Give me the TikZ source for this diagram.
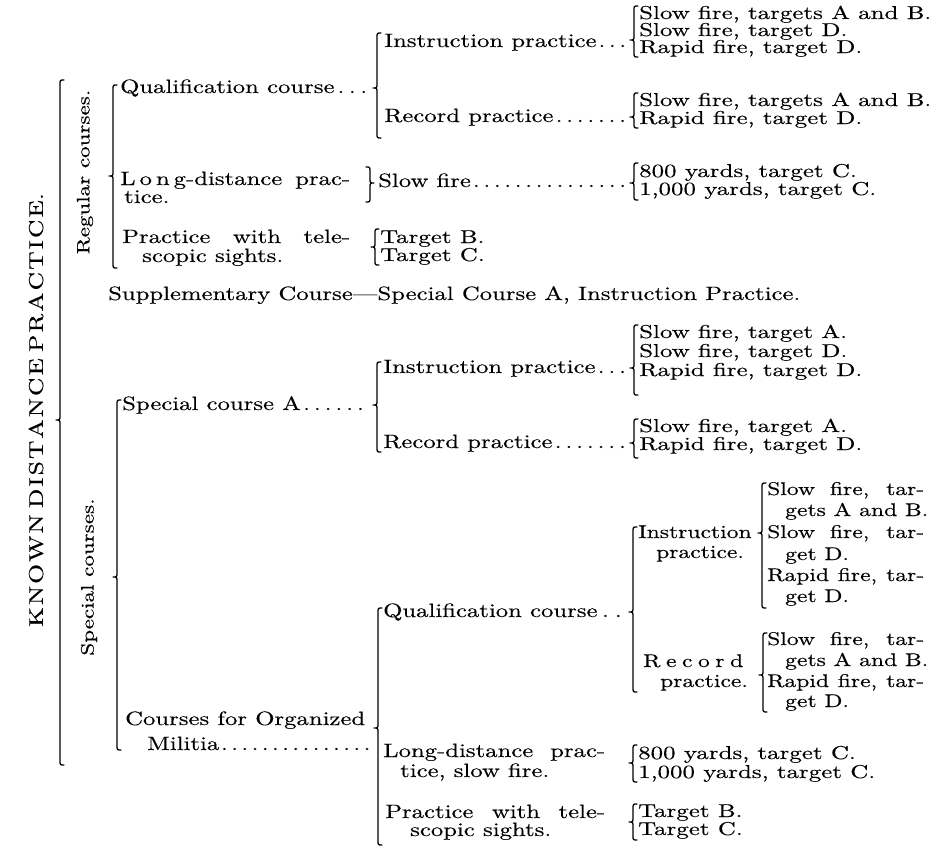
\documentclass[tikz,border=0pt]{standalone}
\usepackage{fontspec}
\setmainfont{lmroman10-regular.otf}[FakeStretch=1.28, FakeBold=0.3]
\newfontfamily\smfam{lmroman10-regular.otf}[FakeStretch=1.34, FakeBold=0.3]
\newcommand\fmain{\fontsize{19.3}{19.3}\selectfont}
\newcommand\fsml{\smfam\fontsize{18.6}{18.6}\selectfont}
\newcommand\fmil{\fontsize{18.4}{18.4}\selectfont}
\newcommand\flab{\fontsize{18}{18}\selectfont}
\newcommand\ldr{\xleaders\hbox to 10pt{\hss.\hss}\hfill}
% left brace "{" : x, top, cusp, bottom
\newcommand\BrL[4]{\draw[brc] ({#1+4},{#2}) .. controls ({#1},{#2}) .. ({#1},{#2+5}) -- ({#1},{#3-5}) .. controls ({#1},{#3}) .. ({#1-4},{#3}) .. controls ({#1},{#3}) .. ({#1},{#3+5}) -- ({#1},{#4-5}) .. controls ({#1},{#4}) .. ({#1+4},{#4});}
% right brace "}" : x, top, cusp, bottom
\newcommand\BrR[4]{\draw[brc] ({#1-4},{#2}) .. controls ({#1},{#2}) .. ({#1},{#2+5}) -- ({#1},{#3-5}) .. controls ({#1},{#3}) .. ({#1+4},{#3}) .. controls ({#1},{#3}) .. ({#1},{#3+5}) -- ({#1},{#4-5}) .. controls ({#1},{#4}) .. ({#1-4},{#4});}
\tikzset{
  brc/.style={line width=1.3pt, line cap=round, line join=round},
  tm/.style={anchor=base west, inner sep=0pt, font=\fmain},
  ts/.style={anchor=base west, inner sep=0pt, font=\fsml},
  tx/.style={anchor=base west, inner sep=0pt, font=\fmil},
  vlab/.style={rotate=90, inner sep=0pt, font=\flab}
}
\begin{document}
\begin{tikzpicture}[x=1pt,y=-1pt]
\useasboundingbox (0,0) rectangle (940,847);
% ---------- left labels ----------
\node[vlab, font=\fontsize{20}{20}\selectfont] (kdp) at (36,410) {\hbox to 434pt{K\hfil N\hfil O\hfil W\hfil N\hfil\hfil\hfil D\hfil I\hfil S\hfil T\hfil A\hfil N\hfil C\hfil E\hfil\hfil\hfil P\hfil R\hfil A\hfil C\hfil T\hfil I\hfil C\hfil E.}};
\BrL{60}{80}{420}{765}
\node[vlab] (reg) at (85,172) {Regular courses.};
\node[vlab] (spc) at (89,577) {Special courses.};
\BrL{113}{85}{176}{268}
\BrL{117}{400}{577}{750}
% ---------- regular courses ----------
\node[tm] (rq) at (120,93) {\hbox to 250pt{Qualification course\ldr}};
\BrL{377}{33}{88}{138}
\node[tm] (rqi) at (384,47) {\hbox to 244pt{Instruction practice\ldr}};
\node[tm] (rqr) at (384,122) {\hbox to 244pt{Record practice\ldr}};
\BrL{634}{6}{40}{57}
\node[ts] (rqi1) at (639,19) {Slow fire, targets A and B.};
\node[ts] (rqi2) at (639,36) {Slow fire, target D.};
\node[ts] (rqi3) at (639,53) {Rapid fire, target D.};
\BrL{634}{93}{117}{128}
\node[ts] (rqr1) at (639,106) {Slow fire, targets A and B.};
\node[ts] (rqr2) at (639,124) {Rapid fire, target D.};
\node[tm] (rl1) at (120,185) {\hbox to 230pt{L\kern4pt o\kern4pt n\kern4pt g-distance\hfil prac-}};
\node[tm] (rl2) at (124,203) {tice.};
\BrR{370}{167}{183}{202}
\node[tm] (rls) at (378,187) {\hbox to 250pt{Slow fire\ldr}};
\BrL{634}{163}{183}{200}
\node[ts] (rls1) at (639,177) {800 yards, target C.};
\node[ts] (rls2) at (639,195) {1,000 yards, target C.};
\node[tm] (rp1) at (122,243) {\hbox to 228pt{Practice\hfil with\hfil tele-}};
\node[tm] (rp2) at (142,262) {scopic sights.};
\BrL{375}{229}{247}{265}
\node[ts] (rp3) at (380,243) {Target B.};
\node[ts] (rp4) at (380,261) {Target C.};
% ---------- supplementary ----------
\node[tm] (sup) at (108,300) {Supplementary Course\textemdash Special Course A, Instruction Practice.};
% ---------- special course A ----------
\node[tm] (sa) at (122,410) {\hbox to 244pt{Special course A\ldr}};
\BrL{377}{362}{405}{452}
\node[tm] (sai) at (383,373) {\hbox to 245pt{Instruction practice\ldr}};
\node[tm] (sar) at (383,448) {\hbox to 245pt{Record practice\ldr}};
\BrL{634}{325}{368}{395}
\node[ts] (sai1) at (639,338) {Slow fire, target A.};
\node[ts] (sai2) at (639,357) {Slow fire, target D.};
\node[ts] (sai3) at (639,376) {Rapid fire, target D.};
\BrL{634}{419}{443}{458}
\node[ts] (sar1) at (639,432) {Slow fire, target A.};
\node[ts] (sar2) at (639,450) {Rapid fire, target D.};
% ---------- organized militia ----------
\node[tm] (om1) at (125,725) {Courses for Organized};
\node[tm] (om2) at (147,750) {\hbox to 225pt{Militia\ldr}};
\BrL{378}{608}{728}{845}
\node[tm] (mq) at (383,617) {\hbox to 243pt{Qualification course\ldr}};
\BrL{633}{527}{612}{692}
\node[tx] (mi1) at (638,538) {Instruction};
\node[tx] (mi2) at (656,558) {practice.};
\BrL{762}{483}{533}{608}
\node[tx] (mi3) at (767,495) {\hbox to 157pt{Slow fire, tar-}};
\node[tx] (mi4) at (785,516) {gets A and B.};
\node[tx] (mi5) at (767,538) {\hbox to 157pt{Slow fire, tar-}};
\node[tx] (mi6) at (785,560) {get D.};
\node[tx] (mi7) at (767,581) {\hbox to 157pt{Rapid fire, tar-}};
\node[tx] (mi8) at (785,602) {get D.};
\node[tx] (mr1) at (643,667) {\hbox to 100pt{R\hfil e\hfil c\hfil o\hfil r\hfil d}};
\node[tx] (mr2) at (660,687) {practice.};
\BrL{763}{633}{675}{712}
\node[tx] (mr3) at (767,645) {\hbox to 157pt{Slow fire, tar-}};
\node[tx] (mr4) at (785,666) {gets A and B.};
\node[tx] (mr5) at (767,687) {\hbox to 157pt{Rapid fire, tar-}};
\node[tx] (mr6) at (785,707) {get D.};
\node[tm] (ml1) at (383,757) {\hbox to 222pt{Long-distance\hfil prac-}};
\node[tm] (ml2) at (400,777) {tice, slow fire.};
\BrL{633}{745}{763}{782}
\node[ts] (ml3) at (638,759) {800 yards, target C.};
\node[ts] (ml4) at (638,778) {1,000 yards, target C.};
\node[tm] (mp1) at (385,818) {\hbox to 220pt{Practice\hfil with\hfil tele-}};
\node[tm] (mp2) at (410,836) {scopic sights.};
\BrL{633}{804}{822}{840}
\node[ts] (mp3) at (638,817) {Target B.};
\node[ts] (mp4) at (638,835) {Target C.};
\end{tikzpicture}
\end{document}
